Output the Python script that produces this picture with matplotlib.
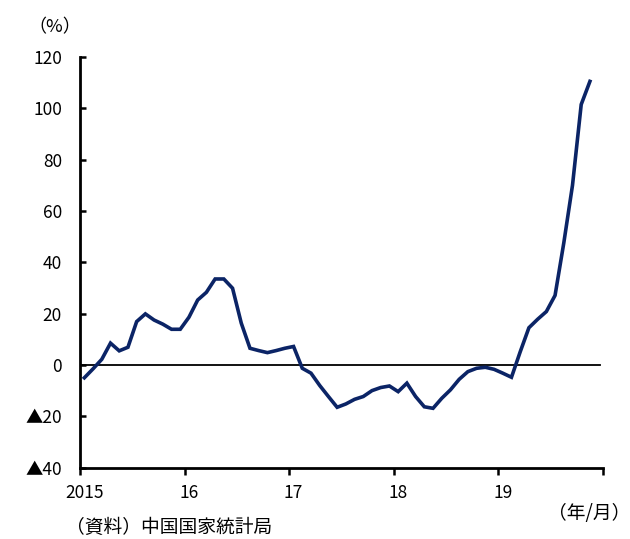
import matplotlib.pyplot as plt
import numpy as np

plt.rcParams['font.family'] = ['Noto Sans CJK JP', 'DejaVu Sans']

# ---------- Monthly year-on-year change (%), Jan 2015 - Nov 2019 ----------
values_2015 = [-5.0, -1.5, 2.2, 8.5, 5.5, 6.9, 16.9, 19.9, 17.5, 15.9, 13.9, 13.9]
values_2016 = [18.6, 25.3, 28.3, 33.5, 33.5, 29.9, 16.3, 6.5, 5.6, 4.8, 5.6, 6.5]
values_2017 = [7.2, -1.3, -3.2, -8.0, -12.3, -16.5, -15.2, -13.4, -12.3, -10.0, -8.8, -8.2]
values_2018 = [-10.4, -7.1, -12.3, -16.3, -16.9, -13.0, -9.7, -5.6, -2.6, -1.3, -0.9, -1.7]
values_2019 = [-3.2, -4.8, 5.1, 14.5, 17.8, 20.8, 27.1, 47.5, 70.0, 101.5, 110.5]

year_labels = ['2015', '16', '17', '18', '19']
y_ticks = [120, 100, 80, 60, 40, 20, 0, -20, -40]
y_tick_labels = ['120', '100', '80', '60', '40', '20', '0', '▲20', '▲40']

values = values_2015 + values_2016 + values_2017 + values_2018 + values_2019
months = np.arange(len(values))

fig = plt.figure(figsize=(6.3, 5.39), dpi=100)
ax = fig.add_axes([80 / 630, 1 - 467.6 / 539, 523 / 630, 410.6 / 539])

# ---------- Series and zero line ----------
ax.axhline(0, xmin=0, xmax=0.995, color='black', linewidth=1.3, zorder=1)
ax.plot(months, values, color='#0b2466', linewidth=2.6, solid_joinstyle='miter', zorder=2)

# ---------- Axes ----------
ax.set_xlim(-0.5, 59.5)
ax.set_ylim(-40, 120)

for side in ['top', 'right']:
    ax.spines[side].set_visible(False)
for side in ['left', 'bottom']:
    ax.spines[side].set_linewidth(2.0)

ax.set_yticks(y_ticks)
ax.set_yticklabels(y_tick_labels, fontsize=12.5)
ax.tick_params(axis='y', direction='in', length=4, width=1.8, pad=13)

# ticks sit on year boundaries, labels under each January
ax.set_xticks(np.arange(-0.5, 60, 12))
ax.set_xticklabels([])
ax.tick_params(axis='x', which='major', direction='out', length=5, width=1.8)
ax.set_xticks(np.arange(0, 60, 12), minor=True)
ax.set_xticklabels(year_labels, minor=True, fontsize=12.5)
ax.tick_params(axis='x', which='minor', length=0, pad=12)

# ---------- Annotations ----------
fig.text(28 / 630, 1 - 27 / 539, '（%）', fontsize=13, ha='left', va='center')
fig.text(630 / 630, 1 - 514 / 539, '（年/月）', fontsize=13.5, ha='right', va='center')
fig.text(66 / 630, 1 - 527 / 539, '（資料）中国国家統計局', fontsize=13.5, ha='left', va='center')

fig.savefig('out.png', dpi=100)
